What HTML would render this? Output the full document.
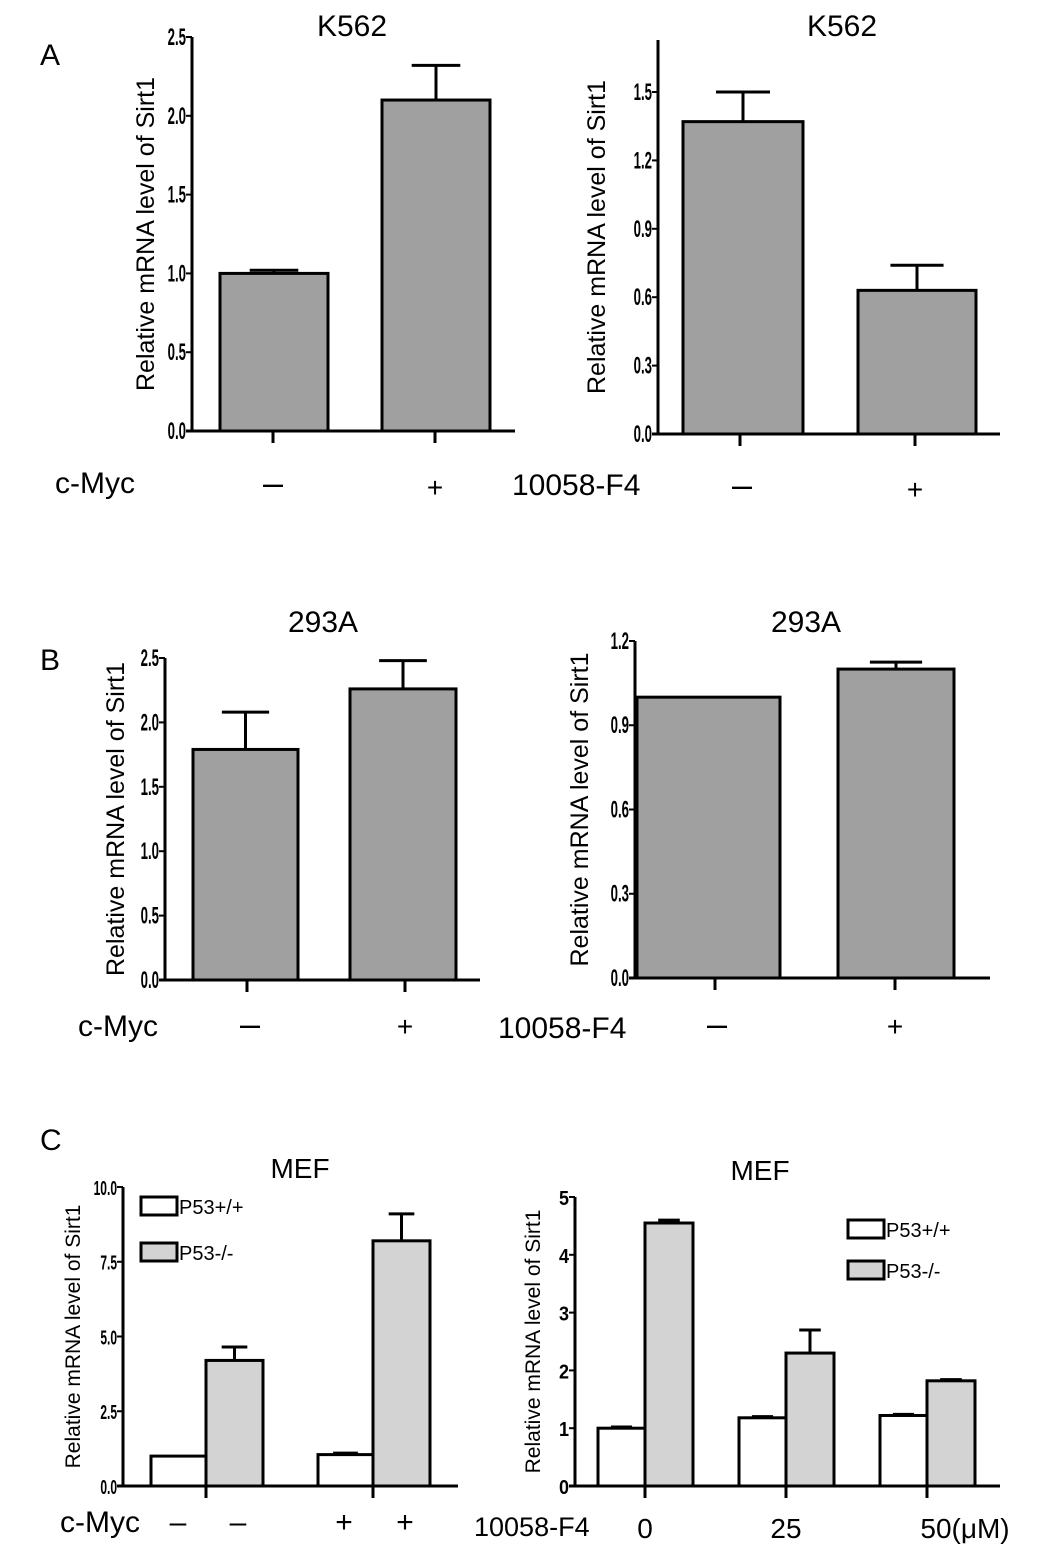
<!DOCTYPE html>
<html><head><meta charset="utf-8"><style>
html,body{margin:0;padding:0;background:#fff}
svg{display:block;font-family:"Liberation Sans",sans-serif}
</style></head><body>
<svg id="fig" width="1063" height="1551" viewBox="0 0 1063 1551">
<text x="40" y="65" font-size="30">A</text>
<text x="40" y="670" font-size="30">B</text>
<text x="40" y="1150" font-size="30">C</text>
</svg>
<script>
// ---- data ----
const aLeftValues=[1.0,2.1];
const aLeftErr=[1.02,2.32];
const aLeftTicks=[0,0.5,1.0,1.5,2.0,2.5];
const aRightValues=[1.37,0.63];
const aRightErr=[1.5,0.74];
const aRightTicks=[0,0.3,0.6,0.9,1.2,1.5];
const bLeftValues=[1.79,2.26];
const bLeftErr=[2.08,2.48];
const bLeftTicks=[0,0.5,1.0,1.5,2.0,2.5];
const bRightValues=[1.0,1.1];
const bRightErr=[1.0,1.125];
const bRightTicks=[0,0.3,0.6,0.9,1.2];
const cLeftWT=[1.0,1.05];
const cLeftWTErr=[1.0,1.1];
const cLeftKO=[4.2,8.2];
const cLeftKOErr=[4.65,9.1];
const cLeftTicks=[0,2.5,5.0,7.5,10.0];
const cRightWT=[1.0,1.18,1.22];
const cRightWTErr=[1.02,1.2,1.24];
const cRightKO=[4.55,2.3,1.82];
const cRightKOErr=[4.6,2.7,1.84];
const cRightTicks=[0,1,2,3,4,5];
const cRightCats=["0","25","50(μM)"];

const NS="http://www.w3.org/2000/svg";
const svg=document.getElementById('fig');
function mk(tag,attrs,parent){const e=document.createElementNS(NS,tag);for(const k in attrs)e.setAttribute(k,attrs[k]);(parent||svg).appendChild(e);return e;}
function txt(x,y,s,size,parent,anchor,extra){const t=mk('text',Object.assign({x:x,y:y,'font-size':size,'text-anchor':anchor||'start'},extra||{}),parent);t.textContent=s;return t;}

function chart(o){
  const g=mk('g',{});
  
  
  const y=v=>o.y0-(v/o.max)*(o.y0-o.yTop);
  const ya=mk('line',{x1:o.ax,y1:o.axisTop,x2:o.ax,y2:o.y0,stroke:'#000','stroke-width':3},g);
  
  const xa=mk('line',{x1:o.ax-6,y1:o.y0,x2:o.axEnd,y2:o.y0,stroke:'#000','stroke-width':3},g);
  
  const sx=o.tickScale||0.55;
  o.ticks.forEach(tv=>{
    mk('line',{x1:o.ax-6,y1:y(tv),x2:o.ax,y2:y(tv),stroke:'#000','stroke-width':2},g);
    const lab=o.tickFmt?o.tickFmt(tv):tv.toFixed(1);
    const tx=o.ax-6;
    const t=txt(tx,y(tv)+8,lab,o.tickSize||24,g,'end',{'font-weight':'bold','transform':'translate('+tx+',0) scale('+sx+',1) translate('+(-tx)+',0)'});
    
  });
  o.xTicks.forEach(xt=>mk('line',{x1:xt,y1:o.y0,x2:xt,y2:o.y0+12,stroke:'#000','stroke-width':3},g));
  o.bars.forEach(b=>{
    const top=y(b.v);
    if(b.e>b.v+0.001){
      const cx=(b.x1+b.x2)/2, w=(b.x2-b.x1)*0.45;
      mk('line',{x1:cx,y1:top,x2:cx,y2:y(b.e),stroke:'#000','stroke-width':3},g);
      mk('line',{x1:cx-w/2,y1:y(b.e),x2:cx+w/2,y2:y(b.e),stroke:'#000','stroke-width':3},g);
    }
    const r=mk('rect',{x:b.x1,y:top,width:b.x2-b.x1,height:o.y0-top,fill:b.fill,stroke:'#000','stroke-width':3},g);
    
  });
  const yt=txt(0,0,'Relative mRNA level of Sirt1',o.ytSize||25,g,'middle',{transform:'translate('+o.ytX+','+((o.axisTop+o.y0)/2)+') rotate(-90)'});
  
  const tt=txt(o.titleX,o.titleY,o.title,o.titleSize||30,g,'middle');
  
  return {g:g,y:y};
}
const gray='#a0a0a0', lg='#d3d3d3';

(function(){
  const xs=[[220,328],[382,490]];
  const c=chart({name:'chart-a-left',ax:192,axisTop:37,y0:431,yTop:37,max:2.5,axEnd:515,ticks:aLeftTicks,xTicks:[273,435],
    bars:aLeftValues.map((v,i)=>({v:v,e:aLeftErr[i],x1:xs[i][0],x2:xs[i][1],fill:gray,name:'bar-a-left-'+i})),
    ytX:154,title:'K562',titleX:352,titleY:36});
  txt(55,493,'c-Myc',30,c.g);
  txt(273,495,'–',36,c.g,'middle');txt(435,497,'+',28,c.g,'middle');
})();
(function(){
  const xs=[[683,803],[858,976]];
  const c=chart({name:'chart-a-right',ax:658,axisTop:40,y0:434,yTop:92,max:1.5,axEnd:1000,ticks:aRightTicks,xTicks:[740,915],
    bars:aRightValues.map((v,i)=>({v:v,e:aRightErr[i],x1:xs[i][0],x2:xs[i][1],fill:gray,name:'bar-a-right-'+i})),
    ytX:605,title:'K562',titleX:842,titleY:36});
  txt(512,495,'10058-F4',30,c.g);
  txt(742,497,'–',36,c.g,'middle');txt(915,499,'+',28,c.g,'middle');
})();
(function(){
  const xs=[[193,298],[350,456]];
  const c=chart({name:'chart-b-left',ax:165,axisTop:658,y0:980,yTop:658,max:2.5,axEnd:480,ticks:bLeftTicks,xTicks:[247,405],
    bars:bLeftValues.map((v,i)=>({v:v,e:bLeftErr[i],x1:xs[i][0],x2:xs[i][1],fill:gray,name:'bar-b-left-'+i})),
    ytX:124,title:'293A',titleX:323,titleY:632});
  txt(78,1036,'c-Myc',30,c.g);
  txt(250,1036,'–',36,c.g,'middle');txt(405,1036,'+',28,c.g,'middle');
})();
(function(){
  const xs=[[637,780],[838,954]];
  const c=chart({name:'chart-b-right',ax:635,axisTop:641,y0:978,yTop:641,max:1.2,axEnd:990,ticks:bRightTicks,xTicks:[715,895],
    bars:bRightValues.map((v,i)=>({v:v,e:bRightErr[i],x1:xs[i][0],x2:xs[i][1],fill:gray,name:'bar-b-right-'+i})),
    ytX:588,title:'293A',titleX:806,titleY:632});
  txt(498,1038,'10058-F4',30,c.g);
  txt(717,1036,'–',36,c.g,'middle');txt(895,1036,'+',28,c.g,'middle');
})();
function legend(g,x,y1,y2){
  mk('rect',{x:x,y:y1,width:36,height:18,fill:'#fff',stroke:'#000','stroke-width':3},g);
  txt(x+38,y1+17,'P53+/+',20,g);
  mk('rect',{x:x,y:y2,width:36,height:18,fill:lg,stroke:'#000','stroke-width':3},g);
  txt(x+38,y2+17,'P53-/-',20,g);
}
(function(){
  const gx=[151,318], bw=55;
  const bars=[];
  cLeftWT.forEach((v,i)=>bars.push({v:v,e:cLeftWTErr[i],x1:gx[i],x2:gx[i]+bw,fill:'#fff',name:'bar-c-left-wt-'+i}));
  cLeftKO.forEach((v,i)=>bars.push({v:v,e:cLeftKOErr[i],x1:gx[i]+bw,x2:gx[i]+2*bw+2,fill:lg,name:'bar-c-left-ko-'+i}));
  const c=chart({name:'chart-c-left',ax:123,axisTop:1187,y0:1486,yTop:1187,max:10,axEnd:458,ticks:cLeftTicks,xTicks:[206,373],
    bars:bars,ytX:80,ytSize:21,tickSize:20,tickScale:0.6,title:'MEF',titleX:300,titleY:1178,titleSize:28});
  legend(c.g,141,1197,1243);
  txt(60,1532,'c-Myc',30,c.g);
  [[178,'–'],[238,'–'],[344,'+'],[405,'+']].forEach(p=>txt(p[0],1532,p[1],30,c.g,'middle'));
})();
(function(){
  const gx=[598,739,880], bw=47;
  const bars=[];
  cRightWT.forEach((v,i)=>bars.push({v:v,e:cRightWTErr[i],x1:gx[i],x2:gx[i]+bw,fill:'#fff',name:'bar-c-right-wt-'+i}));
  cRightKO.forEach((v,i)=>bars.push({v:v,e:cRightKOErr[i],x1:gx[i]+bw,x2:gx[i]+2*bw+1,fill:lg,name:'bar-c-right-ko-'+i}));
  const c=chart({name:'chart-c-right',ax:575,axisTop:1197,y0:1486,yTop:1197,max:5,axEnd:1000,ticks:cRightTicks,xTicks:gx.map(x=>x+bw),
    bars:bars,ytX:540,ytSize:21,tickFmt:v=>String(v),tickSize:20,tickScale:0.9,title:'MEF',titleX:760,titleY:1180,titleSize:28});
  legend(c.g,848,1220,1261);
  txt(474,1536,'10058-F4',27,c.g);
  cRightCats.forEach((s,i)=>{const t=txt(gx[i]+bw+(i==2?38:0),1538,s,28,c.g,'middle');});
})();
</script>
</body></html>
